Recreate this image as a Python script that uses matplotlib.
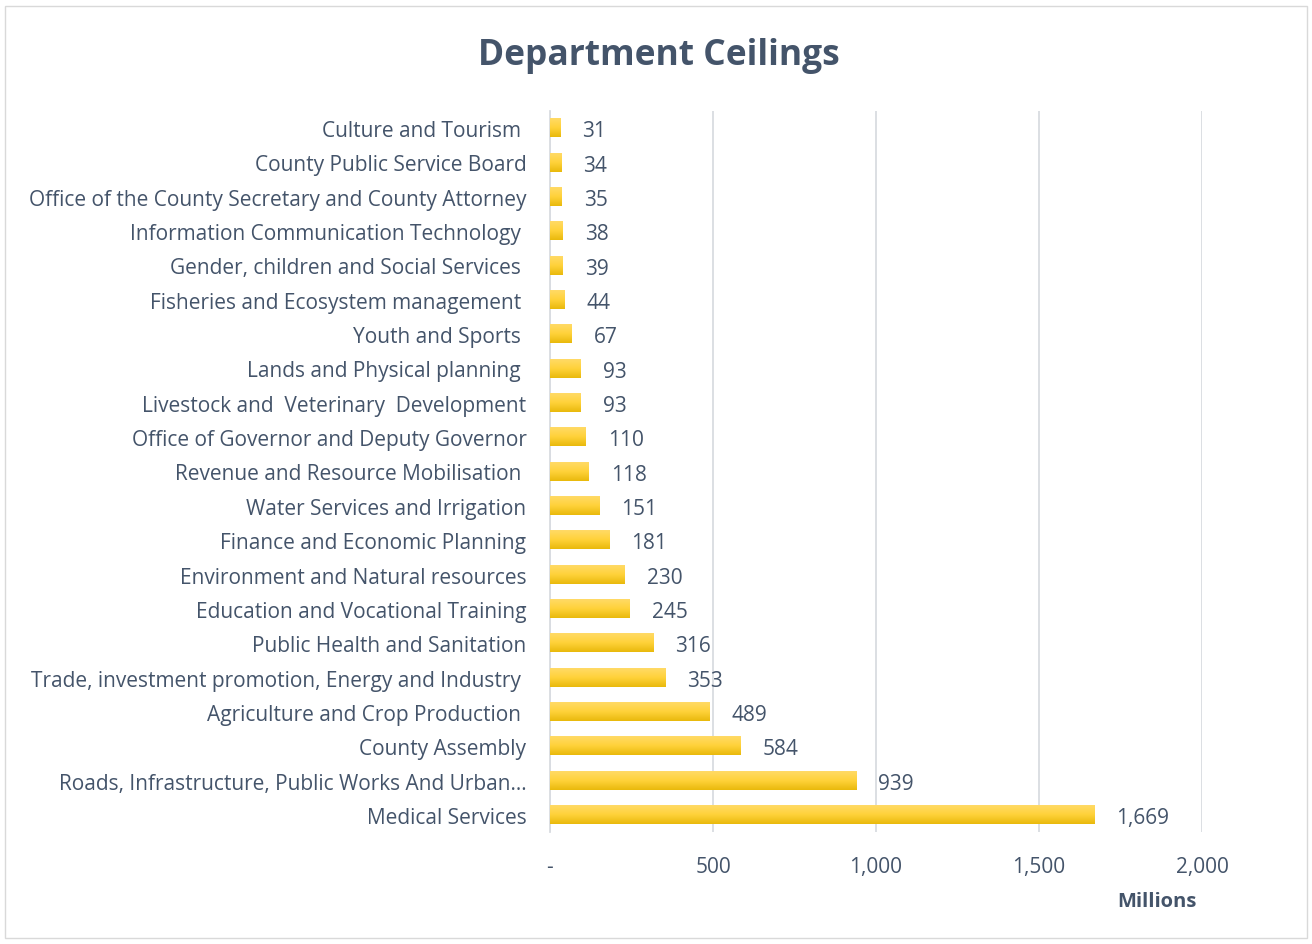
import numpy as np
import matplotlib
matplotlib.use('Agg')
from matplotlib import pyplot as plt
from matplotlib.colors import LinearSegmentedColormap
from matplotlib.patches import Rectangle
from matplotlib.ticker import FuncFormatter

plt.rcParams['font.family'] = ['Open Sans', 'DejaVu Sans']

# departments, bottom to top
departments = [
    'Medical Services',
    'Roads, Infrastructure, Public Works And Urban\u2026',
    'County Assembly',
    'Agriculture and Crop Production ',
    'Trade, investment promotion, Energy and Industry ',
    'Public Health and Sanitation',
    'Education and Vocational Training',
    'Environment and Natural resources',
    'Finance and Economic Planning',
    'Water Services and Irrigation',
    'Revenue and Resource Mobilisation ',
    'Office of Governor and Deputy Governor',
    'Livestock and  Veterinary  Development',
    'Lands and Physical planning ',
    'Youth and Sports ',
    'Fisheries and Ecosystem management ',
    'Gender, children and Social Services ',
    'Information Communication Technology ',
    'Office of the County Secretary and County Attorney',
    'County Public Service Board',
    'Culture and Tourism ',
]
ceilings = [1669, 939, 584, 489, 353, 316, 245, 230, 181, 151, 118,
            110, 93, 93, 67, 44, 39, 38, 35, 34, 31]
xticks = [0, 500, 1000, 1500, 2000]

text_col = '#44546A'
grid_col = '#D9DCE1'
fs = 15

fig = plt.figure(figsize=(13.12, 9.45), dpi=100)
ax = fig.add_axes([0.4192, 0.1185, 0.497, 0.763])

pos = np.arange(len(departments))
bars = ax.barh(pos, ceilings, height=0.53, color='#FFD033', zorder=2)

# vertical gradient inside each bar
grad = LinearSegmentedColormap.from_list('gold', ['#E9B90C', '#FFD23A', '#FFDA66'])
g = np.linspace(0, 1, 64).reshape(-1, 1)
for b in bars:
    x0, y0, w, h = b.get_x(), b.get_y(), b.get_width(), b.get_height()
    ax.imshow(g, cmap=grad, extent=(x0, x0 + w, y0, y0 + h), origin='lower',
              aspect='auto', zorder=3, interpolation='bilinear')

for p, v in zip(pos, ceilings):
    ax.annotate(f'{v:,}', (v, p), xytext=(16, -2), textcoords='offset points',
                va='center', ha='left', fontsize=fs, color=text_col)

ax.set_xlim(0, 2000)
ax.set_ylim(-0.5, len(departments) - 0.5)
ax.set_xticks(xticks)
ax.xaxis.set_major_formatter(FuncFormatter(lambda x, _: '-' if x == 0 else f'{int(x):,}'))
ax.set_yticks(pos)
ax.set_yticklabels(departments)
ax.tick_params(axis='both', length=0, labelsize=fs, labelcolor=text_col)
ax.tick_params(axis='x', pad=17)
ax.tick_params(axis='y', pad=17)
ax.grid(axis='x', color=grid_col, linewidth=1.3, zorder=0)
for s in ['top', 'right', 'bottom']:
    ax.spines[s].set_visible(False)
ax.spines['left'].set_color(grid_col)
ax.spines['left'].set_linewidth(1.3)

fig.text(0.502, 0.941, 'Department Ceilings', ha='center', va='center',
         fontsize=25.5, fontweight='bold', color=text_col)
fig.text(0.8815, 0.045, 'Millions', ha='center', va='center',
         fontsize=14.5, fontweight='bold', color=text_col)

fig.add_artist(Rectangle((0.004, 0.006), 0.992, 0.987, transform=fig.transFigure,
                         fill=False, edgecolor='#D9D9D9', linewidth=1))

fig.savefig('out.png', dpi=100)
